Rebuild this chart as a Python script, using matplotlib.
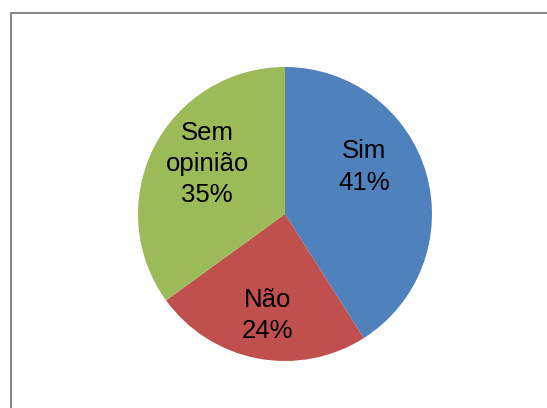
import matplotlib
matplotlib.use("Agg")
import matplotlib.pyplot as plt
from matplotlib.patches import Rectangle

# data
categories = ["Sim", "Não", "Sem\nopinião"]
shares = [41, 24, 35]
colors = ["#4F81BD", "#C0504D", "#9BBB59"]

# label offsets inside the pie (fraction of radius)
label_pos = [(0.54, 0.32), (-0.12, -0.69), (-0.53, 0.34)]

W, H = 547, 408
cx, cy, r = 285, H - 214, 147

plt.rcParams["font.family"] = ["Liberation Sans", "DejaVu Sans"]

fig = plt.figure(figsize=(W / 100, H / 100), dpi=100)
ax = fig.add_axes([0, 0, 1, 1])

wedges, _ = ax.pie(shares, colors=colors, startangle=90, counterclock=False,
                   center=(cx, cy), radius=r, wedgeprops=dict(linewidth=0))

for (dx, dy), name, v in zip(label_pos, categories, shares):
    ax.text(cx + dx * r, cy + dy * r, f"{name}\n{v}%", ha="center", va="center",
            fontsize=18.5, color="black", linespacing=1.38)

# chart area border (only top and left edges visible)
ax.add_patch(Rectangle((11, -20), 600, H - 13 + 20, fill=False,
                       edgecolor="#888888", linewidth=1.5))

ax.set_xlim(0, W)
ax.set_ylim(0, H)
ax.set_aspect("auto")
ax.axis("off")

fig.savefig("out.png", dpi=100)
